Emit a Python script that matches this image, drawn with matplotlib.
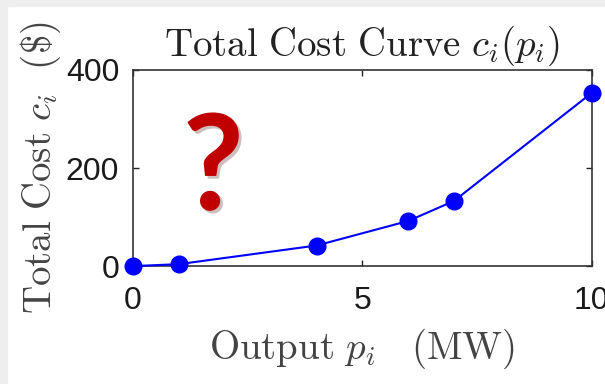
import matplotlib.pyplot as plt
import matplotlib.patheffects as pe
from matplotlib.patches import Rectangle

plt.rcParams['mathtext.fontset'] = 'cm'

output_mw = [0, 1, 4, 6, 7, 10]
total_cost = [0, 4, 42, 92, 133, 353]
x_ticks = [0, 5, 10]
y_ticks = [0, 200, 400]

fig = plt.figure(figsize=(6.05, 3.84), dpi=100)
ax = fig.add_axes([0.22, 0.307, 0.758, 0.511])

# light grey frame of the screenshot
fig.patches.append(Rectangle((0, 0.985), 1, 0.015, transform=fig.transFigure,
                             color='#eeeeee', zorder=-1))
fig.patches.append(Rectangle((0, 0), 0.012, 1, transform=fig.transFigure,
                             color='#eeeeee', zorder=-1))

ax.plot(output_mw, total_cost, '-o', color='#0000ff', lw=1.5, ms=12,
        clip_on=False, zorder=3)
ax.set_xlim(0, 10)
ax.set_ylim(0, 400)
ax.set_xticks(x_ticks)
ax.set_yticks(y_ticks)
ax.tick_params(direction='in', top=True, right=True, length=4, width=1,
               labelsize=23, colors='#222222', pad=10)
ax.tick_params(axis='x', pad=14)
for lab in ax.get_xticklabels() + ax.get_yticklabels():
    lab.set_family('Liberation Sans')
    lab.set_color('#1a1a1a')
for s in ax.spines.values():
    s.set_linewidth(1.2)
    s.set_color('#333333')

ax.set_title(r'$\mathrm{Total\ Cost\ Curve}\ c_i(p_i)$', fontsize=28,
             color='#222222', pad=10)
ax.set_xlabel(r'$\mathrm{Output}\ p_i\ \ \ \mathrm{(MW)}$', fontsize=28,
              color='#444444', labelpad=8)
ax.set_ylabel(r'$\mathrm{Total\ Cost}\ c_i\ \ \mathrm{(\$)}$', fontsize=28,
              color='#444444', labelpad=2)

ax.text(0.175, 0.48, '?', transform=ax.transAxes, fontsize=96,
        fontweight='bold', family='Lato', color='#c00000',
        ha='center', va='center',
        path_effects=[pe.SimplePatchShadow(offset=(2, -2), alpha=0.25),
                      pe.Normal()])

fig.savefig('out.png', dpi=100)
